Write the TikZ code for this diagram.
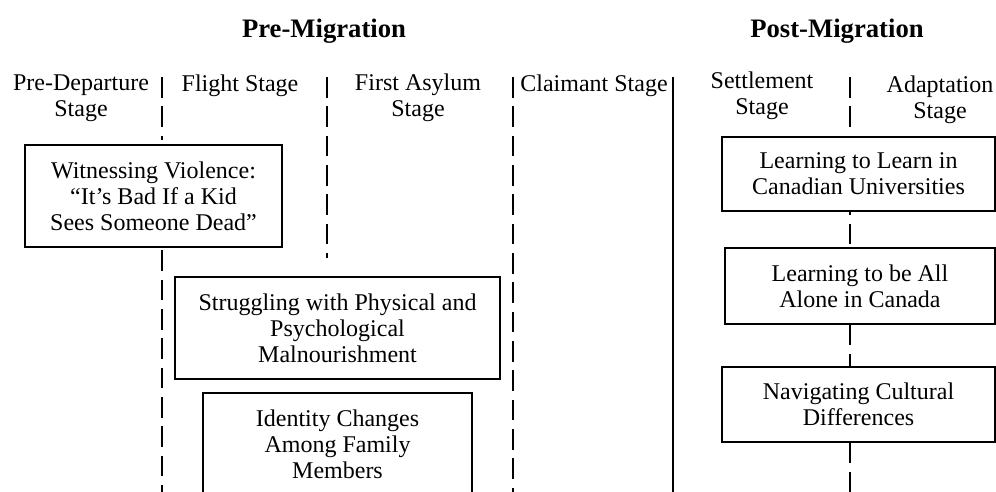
\documentclass[tikz,border=0pt]{standalone}
\usepackage{fontspec}
\setmainfont{Liberation Serif}
\usetikzlibrary{positioning}
\def\px{0.75pt}

\begin{document}
\begin{tikzpicture}[x=0.75pt,y=-0.75pt,
    stagebox/.style={draw,line width=1.2pt,inner sep=0pt,align=center,font=\fontsize{18}{19.5}\selectfont},
    stagelabel/.style={align=center,inner sep=0pt,font=\fontsize{18}{19.5}\selectfont},
    phasetitle/.style={inner sep=0pt,font=\fontsize{20}{22}\selectfont\bfseries},
    divider/.style={line width=1.8pt,dash pattern=on 15.5pt off 6.5pt},
    solidline/.style={line width=1.8pt}]
           \clip (0,0) rectangle (996,492);
           % titles
           \node[phasetitle] (premig) at (324,31) {Pre-Migration};
           \node[phasetitle] (postmig) at (837,31) {Post-Migration};
           % stage labels
           \node[stagelabel] (predep) at (81,98) {Pre-Departure\\Stage};
           \node[stagelabel] (flight) at (240,86) {Flight Stage};
           \node[stagelabel] (asylum) at (418,98) {First Asylum\\Stage};
           \node[stagelabel] (claimant) at (594,86) {Claimant Stage};
           \node[stagelabel] (settle) at (762,96) {Settlement\\Stage};
           \node[stagelabel] (adapt) at (940,100) {Adaptation\\Stage};
           % boxes
           \node[stagebox,minimum width=257*\px,minimum height=102*\px] (witness) at (153.5,196) {Witnessing Violence:\\``It's Bad If a Kid\\Sees Someone Dead''};
           \node[stagebox,minimum width=325*\px,minimum height=102*\px] (struggle) at (337.5,328) {Struggling with Physical and\\Psychological\\Malnourishment};
           \node[stagebox,minimum width=269*\px,minimum height=102*\px] (identity) at (337.5,444) {Identity Changes\\Among Family\\Members};
           \node[stagebox,minimum width=273*\px,minimum height=74*\px] (learnuni) at (858.5,174) {Learning to Learn in\\Canadian Universities};
           \node[stagebox,minimum width=270*\px,minimum height=76*\px] (alone) at (860,286) {Learning to be All\\Alone in Canada};
           \node[stagebox,minimum width=273*\px,minimum height=75*\px] (cultural) at (858.5,404.5) {Navigating Cultural\\Differences};
           % dividers
           \coordinate (d1t) at (162,77); \coordinate (d1b) at (162,492);
           \coordinate (d2t) at (327,77); \coordinate (d2b) at (327,258);
           \coordinate (d3t) at (513,77); \coordinate (d3b) at (513,492);
           \coordinate (d4t) at (673,77); \coordinate (d4b) at (673,492);
           \coordinate (d5t) at (850,77); \coordinate (d5b) at (850,492);
           \draw[divider] (d1t) -- ([yshift=3pt]witness.north -| d1t);
           \draw[divider] ([yshift=-2pt]witness.south -| d1t) -- (d1b);
           \draw[divider] (d2t) -- (d2b);
           \draw[divider] (d3t) -- (d3b);
           \draw[solidline] (d4t) -- (d4b);
           \draw[divider] (d5t) -- ([yshift=4pt]learnuni.north -| d5t);
           \draw[divider,dash phase=-9pt] (learnuni.south -| d5t) -- (alone.north -| d5t);
           \draw[divider] (alone.south -| d5t) -- (cultural.north -| d5t);
           \draw[divider] (cultural.south -| d5t) -- (d5b);
\end{tikzpicture}
\end{document}
